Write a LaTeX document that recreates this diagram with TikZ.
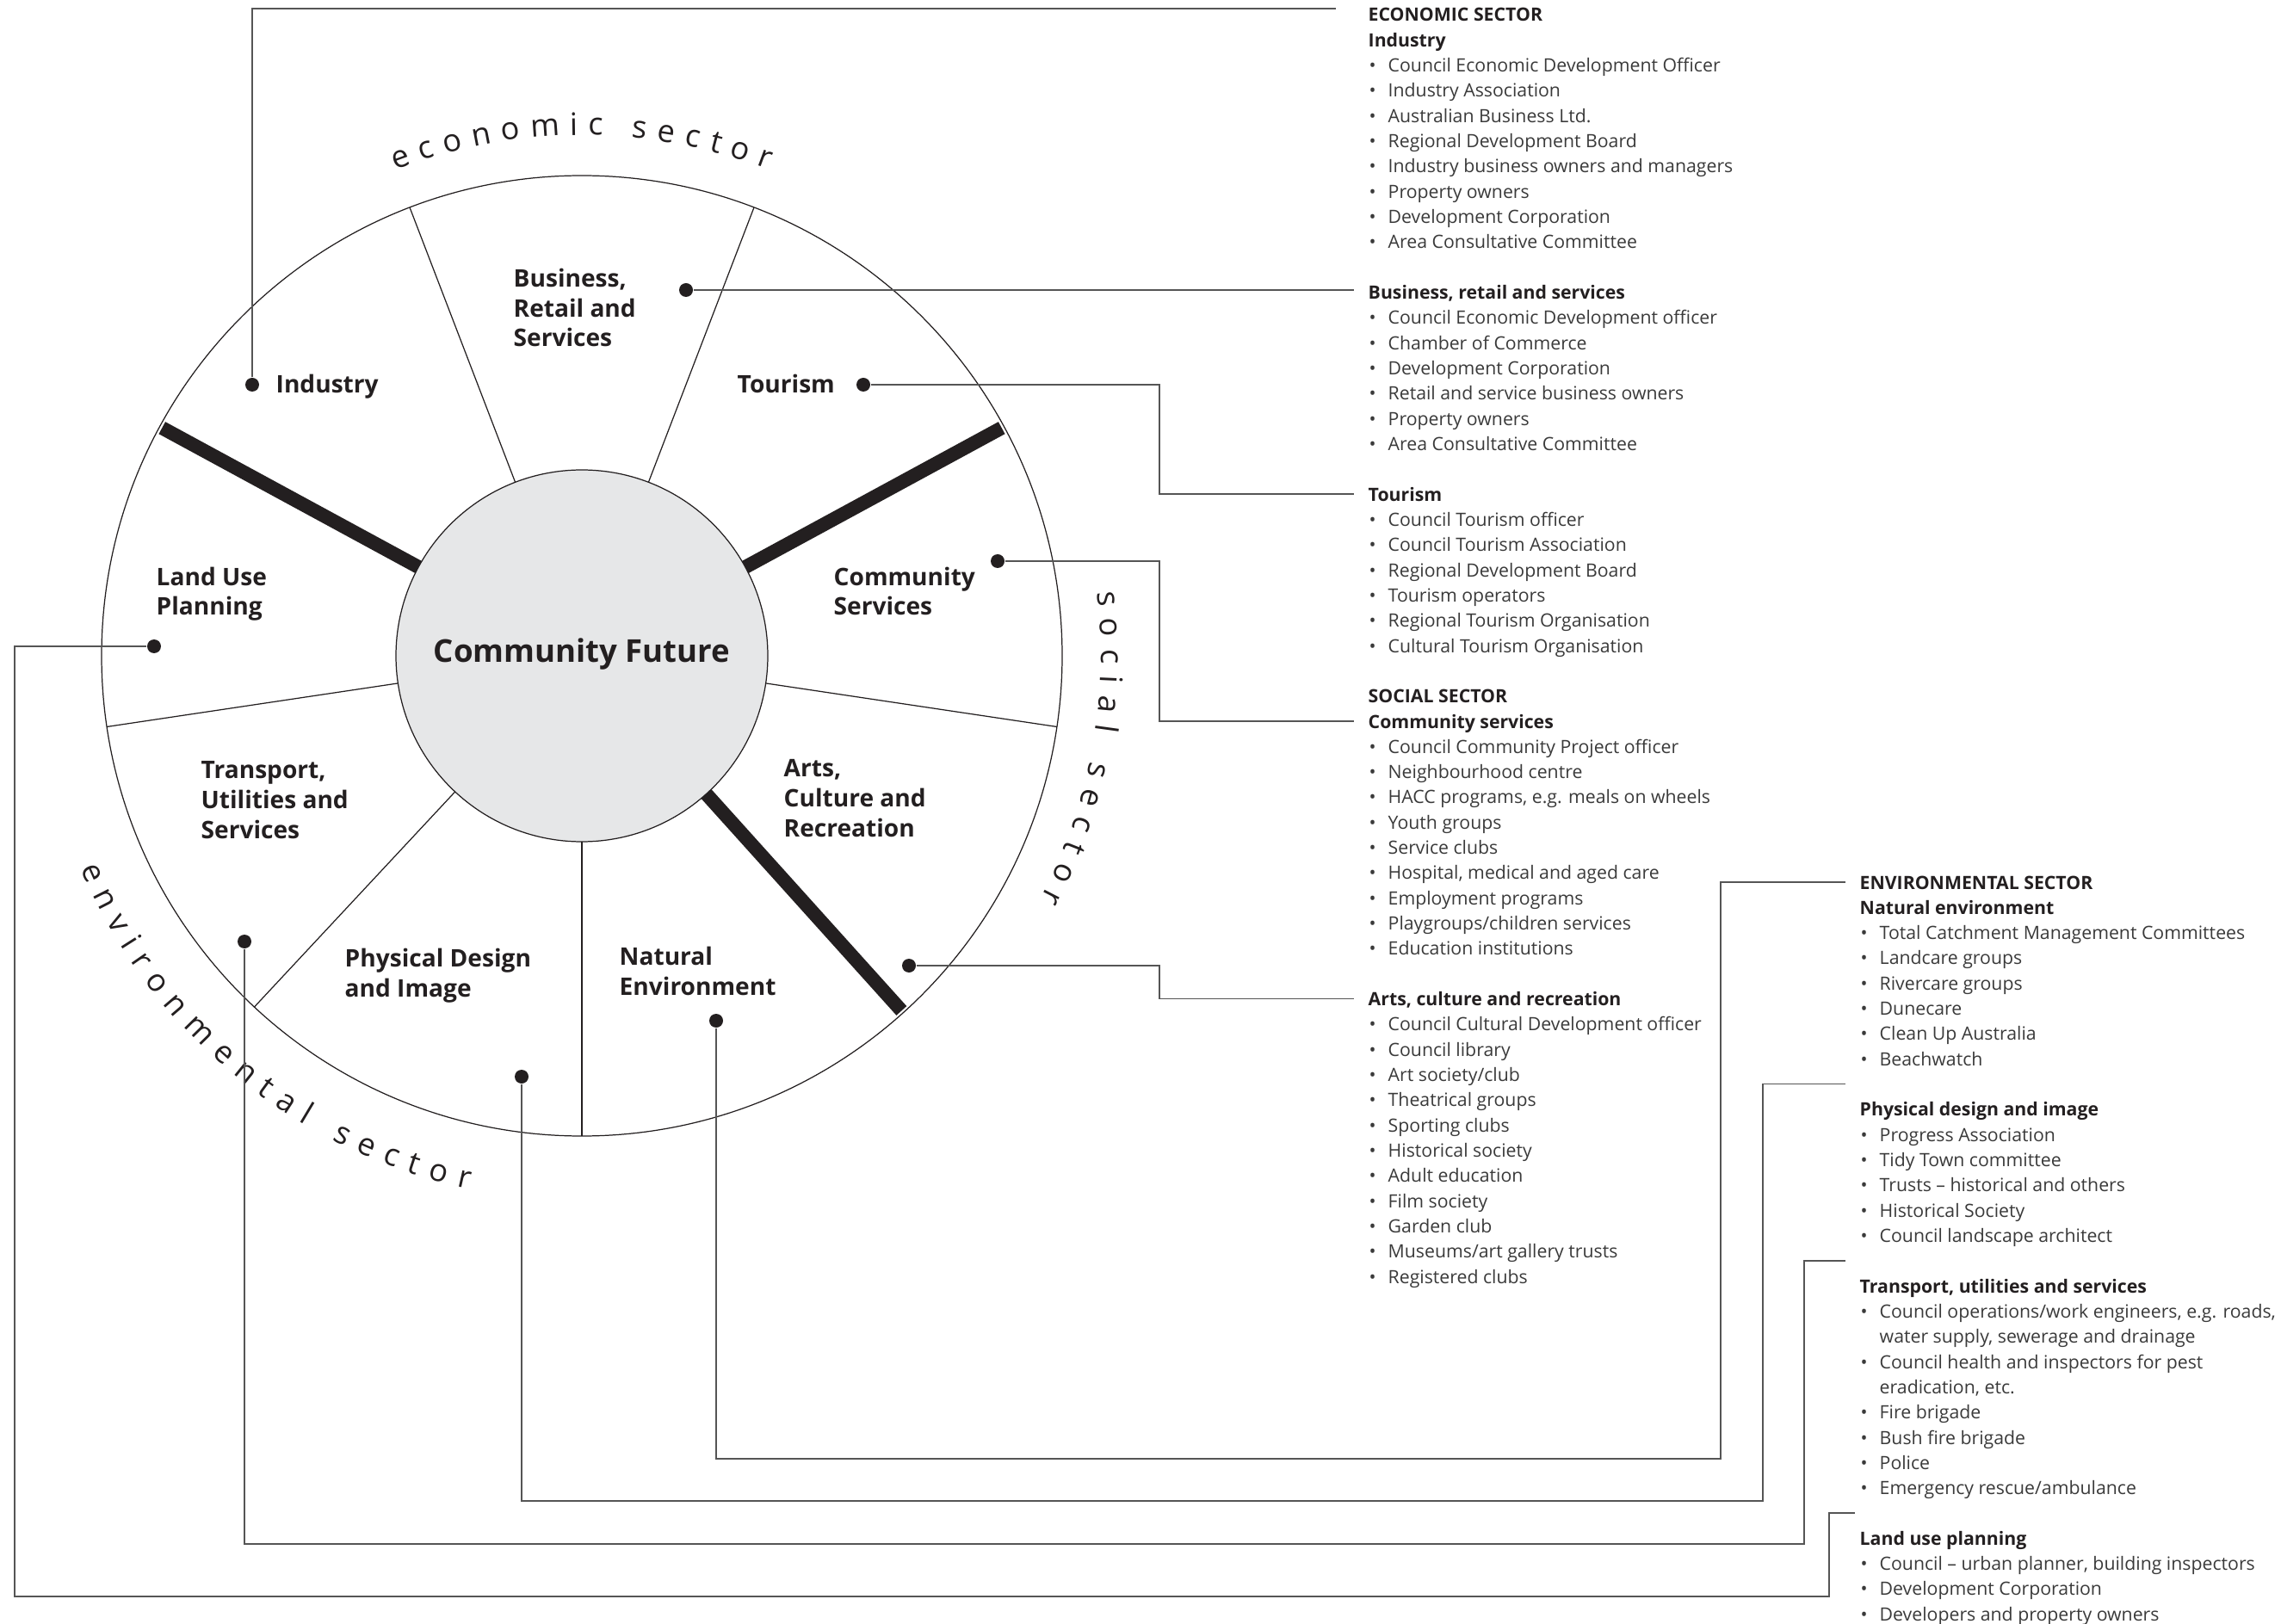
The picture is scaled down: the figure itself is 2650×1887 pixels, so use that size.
\documentclass[tikz,border=0pt]{standalone}
\usepackage{fontspec}
\setmainfont{Open Sans}
\usetikzlibrary{decorations.text}

\definecolor{ink}{HTML}{231F20}
\definecolor{hubgray}{HTML}{E6E7E8}
\definecolor{linkgray}{HTML}{555555}
\definecolor{itemgray}{HTML}{3A3A3A}

\newcommand\lblfont{\bfseries\fontsize{8}{9.92}\selectfont}
\newcommand\headfont{\bfseries\fontsize{6.05}{8.3}\selectfont}
\newcommand\listfont{\fontsize{6.05}{8.3}\selectfont}
\newcommand\arcfont{\fontsize{10.3}{12}\selectfont}
\newcommand\hubfont{\bfseries\fontsize{10.4}{13}\selectfont}
\newcommand\bul{\makebox[2.2mm][l]{\textbullet}}
\newcommand\nob{\hspace*{2.2mm}}

\tikzset{
  dot/.style={circle, fill=ink, inner sep=0pt, minimum size=1.6mm},
  lbl/.style={anchor=base west, align=left, font=\lblfont, text=ink, inner sep=0pt},
  head/.style={anchor=base west, font=\headfont, text=ink, inner xsep=1.6mm,
    inner ysep=0pt, text height=4.5pt, text depth=0pt},
  item/.style={anchor=base west, font=\listfont, text=itemgray, inner sep=0pt},
  link/.style={draw=linkgray, line width=0.45pt},
  spoke/.style={draw=ink, line width=0.35pt},
  divider/.style={draw=ink, line width=1.6mm},
  arctext/.style={decorate, decoration={text along path, text color=ink, text align={fit to path}}},
}

\begin{document}
\begin{tikzpicture}[x=0.1mm, y=-0.1mm]
  \useasboundingbox (0,0) rectangle (2650,1887);
  \coordinate (ctr) at (676,762);

  % wheel
  \foreach \a in {111,69,-8.5,-90,-133,-171.5}
    \draw[spoke] (ctr) ++(\a:20mm) -- ++(\a:35.8mm);
  \foreach \a in {151.5,28.5,-48}
    \draw[divider] (ctr) ++(\a:20mm) -- ++(\a:35.5mm);
  \draw[spoke, fill=hubgray] (ctr) circle (21.6mm);
  \draw[spoke] (ctr) circle (55.8mm);
  \node[font=\hubfont, text=ink] (hub) at (676,760) {Community Future};

  % sector names round the wheel
  \path[arctext, decoration={text={|\arcfont|economic sector}}]
    ([shift={(111:60.5mm)}]ctr) arc[start angle=111, end angle=69, radius=60.5mm];
  \path[arctext, decoration={text={|\arcfont|social sector}}]
    ([shift={(7:60.3mm)}]ctr) arc[start angle=7, end angle=-28, radius=60.3mm];
  \path[arctext, decoration={text={|\arcfont|environmental sector}}]
    ([shift={(203:63.3mm)}]ctr) arc[start angle=203, end angle=258, radius=63.3mm];

  % segment labels (base = last line)
  \node[lbl] (lInd) at (320,457) {Industry};
  \node[lbl] (lBus) at (596,403) {Business,\\Retail and\\Services};
  \node[lbl] (lTou) at (856,457) {Tourism};
  \node[lbl] (lCom) at (968,715) {Community\\Services};
  \node[lbl] (lArt) at (910,972) {Arts,\\Culture and\\Recreation};
  \node[lbl] (lNat) at (719,1156) {Natural\\Environment};
  \node[lbl] (lPhy) at (400,1158) {Physical Design\\and Image};
  \node[lbl] (lTra) at (233,974) {Transport,\\Utilities and\\Services};
  \node[lbl] (lLan) at (181,715) {Land Use\\Planning};

  \node[dot] (dInd) at (293,447) {};
  \node[dot] (dBus) at (797,337) {};
  \node[dot] (dTou) at (1003,447) {};
  \node[dot] (dCom) at (1159,652) {};
  \node[dot] (dArt) at (1056,1122) {};
  \node[dot] (dNat) at (832,1186) {};
  \node[dot] (dPhy) at (606,1251) {};
  \node[dot] (dTra) at (284,1094) {};
  \node[dot] (dLan) at (179,751) {};

  % economic sector list
  \node[head] (sEco) at (1573,25) {ECONOMIC SECTOR};
  \node[head] (hInd) at (1573,54.3) {Industry};
  \foreach \t [count=\i] in {Council Economic Development Officer, Industry Association,
      Australian Business Ltd., Regional Development Board, Industry business owners and managers,
      Property owners, Development Corporation, Area Consultative Committee}
    \node[item] (ind\i) at (1590,{54.3+29.32*\i}) {\bul\t};
  \node[head] (hBus) at (1573,347.5) {Business, retail and services};
  \foreach \t [count=\i] in {Council Economic Development officer, Chamber of Commerce,
      Development Corporation, Retail and service business owners, Property owners,
      Area Consultative Committee}
    \node[item] (bus\i) at (1590,{347.5+29.32*\i}) {\bul\t};
  \node[head] (hTou) at (1573,582.1) {Tourism};
  \foreach \t [count=\i] in {Council Tourism officer, Council Tourism Association,
      Regional Development Board, Tourism operators, Regional Tourism Organisation,
      Cultural Tourism Organisation}
    \node[item] (tou\i) at (1590,{582.1+29.32*\i}) {\bul\t};

  % social sector list
  \node[head] (sSoc) at (1573,816.6) {SOCIAL SECTOR};
  \node[head] (hCom) at (1573,846) {Community services};
  \foreach \t [count=\i] in {Council Community Project officer, Neighbourhood centre,
      {HACC programs, e.g. meals on wheels}, Youth groups, Service clubs,
      {Hospital, medical and aged care}, Employment programs, Playgroups/children services,
      Education institutions}
    \node[item] (com\i) at (1590,{846+29.32*\i}) {\bul\t};
  \node[head] (hArt) at (1573,1168.5) {Arts, culture and recreation};
  \foreach \t [count=\i] in {Council Cultural Development officer, Council library,
      Art society/club, Theatrical groups, Sporting clubs, Historical society,
      Adult education, Film society, Garden club, Museums/art gallery trusts, Registered clubs}
    \node[item] (art\i) at (1590,{1168.5+29.32*\i}) {\bul\t};

  % environmental sector list
  \node[head] (sEnv) at (2144,1033) {ENVIRONMENTAL SECTOR};
  \node[head] (hNat) at (2144,1062.3) {Natural environment};
  \foreach \t [count=\i] in {Total Catchment Management Committees, Landcare groups,
      Rivercare groups, Dunecare, Clean Up Australia, Beachwatch}
    \node[item] (nat\i) at (2161,{1062.3+29.32*\i}) {\bul\t};
  \node[head] (hPhy) at (2144,1296.9) {Physical design and image};
  \foreach \t [count=\i] in {Progress Association, Tidy Town committee,
      Trusts -- historical and others, Historical Society, Council landscape architect}
    \node[item] (phy\i) at (2161,{1296.9+29.32*\i}) {\bul\t};
  \node[head] (hTra) at (2144,1502.1) {Transport, utilities and services};
  \foreach \t [count=\i] in {{\bul Council operations/work engineers, e.g. roads,},
      {\nob water supply, sewerage and drainage}, {\bul Council health and inspectors for pest},
      {\nob eradication, etc.}, \bul Fire brigade, \bul Bush fire brigade, \bul Police,
      \bul Emergency rescue/ambulance}
    \node[item] (tra\i) at (2161,{1502.1+29.32*\i}) {\t};
  \node[head] (hLan) at (2144,1795.3) {Land use planning};
  \foreach \t [count=\i] in {{Council -- urban planner, building inspectors},
      Development Corporation, Developers and property owners}
    \node[item] (lan\i) at (2161,{1795.3+29.32*\i}) {\bul\t};

  % leader lines
  \draw[link] (dInd) |- ([shift={(-21,-7)}]sEco.west);
  \draw[link] (dBus) -- (dBus -| hBus.west);
  \draw[link] (dTou) -- (1347,447) |- (hTou.west);
  \draw[link] (dCom) -- (1347,652) |- (hCom.west);
  \draw[link] (dArt) -- (1347,1122) |- (hArt.west);
  \draw[link] (dNat) |- (1999,1695) |- (sEnv.west);
  \draw[link] (dPhy) |- (2048,1744) |- ([yshift=2.93mm]hPhy.west);
  \draw[link] (dTra) |- (2096,1794) |- ([yshift=2.93mm]hTra.west);
  \draw[link] (dLan) -| (17,1855) -- (2125,1855) |- ([shift={(11,-29.32)}]hLan.west);
\end{tikzpicture}
\end{document}
